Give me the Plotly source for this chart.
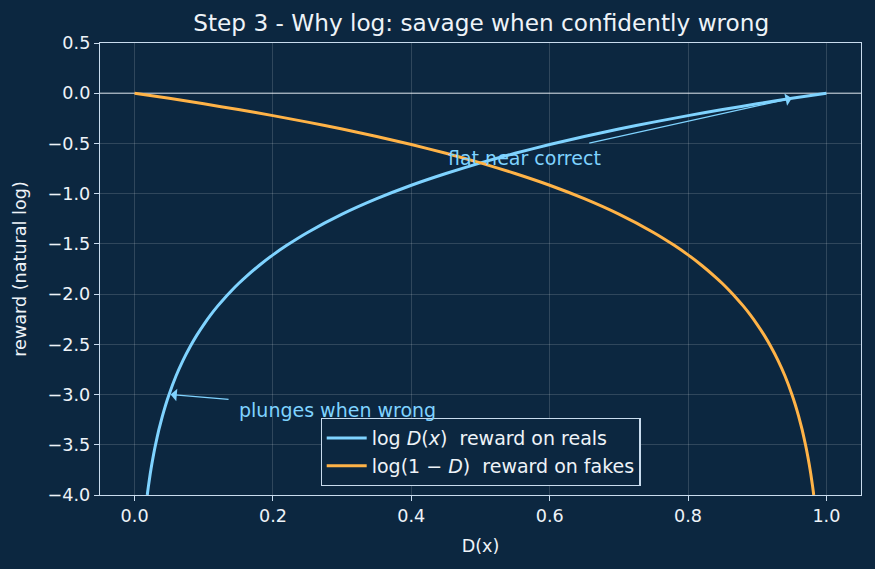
import plotly.graph_objects as go

# Data (reward = natural log)
real_x = [0.0183, 0.02, 0.0225, 0.025, 0.0275, 0.03, 0.035, 0.04, 0.045, 0.05, 0.06, 0.07, 0.08,
          0.09, 0.1, 0.11, 0.12, 0.13, 0.14, 0.15, 0.16, 0.18, 0.2, 0.22, 0.25, 0.3, 0.35, 0.4,
          0.45, 0.5, 0.55, 0.6, 0.65, 0.7, 0.75, 0.8, 0.85, 0.9, 0.95, 1.0]
real_y = [-4.0, -3.912, -3.794, -3.689, -3.594, -3.507, -3.352, -3.219, -3.101, -2.996, -2.813,
          -2.659, -2.526, -2.408, -2.303, -2.207, -2.120, -2.040, -1.966, -1.897, -1.833, -1.715,
          -1.609, -1.514, -1.386, -1.204, -1.050, -0.916, -0.799, -0.693, -0.598, -0.511, -0.431,
          -0.357, -0.288, -0.223, -0.163, -0.105, -0.051, 0.0]
fake_x = [0.0, 0.05, 0.1, 0.15, 0.2, 0.25, 0.3, 0.35, 0.4, 0.45, 0.5, 0.55, 0.6, 0.65, 0.7, 0.75,
          0.78, 0.8, 0.82, 0.84, 0.85, 0.86, 0.87, 0.88, 0.89, 0.9, 0.91, 0.92, 0.93, 0.94, 0.95,
          0.955, 0.96, 0.965, 0.97, 0.9725, 0.975, 0.9775, 0.98, 0.9817]
fake_y = [0.0, -0.051, -0.105, -0.163, -0.223, -0.288, -0.357, -0.431, -0.511, -0.598, -0.693,
          -0.799, -0.916, -1.050, -1.204, -1.386, -1.514, -1.609, -1.715, -1.833, -1.897, -1.966,
          -2.040, -2.120, -2.207, -2.303, -2.408, -2.526, -2.659, -2.813, -2.996, -3.101, -3.219,
          -3.352, -3.507, -3.594, -3.689, -3.794, -3.912, -4.0]

names = ["log <i>D</i>(<i>x</i>)  reward on reals", "log(1 − <i>D</i>)  reward on fakes"]
colors = ["#7fd3ff", "#ffb347"]

BG = "#0c2740"
FG = "#eef3f8"
SPINE = "#c9dcee"

fig = go.Figure()
fig.add_trace(go.Scatter(x=real_x, y=real_y, mode="lines", name=names[0],
                         line=dict(color=colors[0], width=3, shape="spline", smoothing=0.5)))
fig.add_trace(go.Scatter(x=fake_x, y=fake_y, mode="lines", name=names[1],
                         line=dict(color=colors[1], width=3, shape="spline", smoothing=0.5)))

# horizontal reference at 0
fig.add_shape(type="line", xref="paper", x0=0, x1=1, yref="y", y0=0, y1=0,
              line=dict(color="rgba(200,210,220,0.7)", width=1.5), layer="below")

# annotations
fig.add_annotation(x=0.95, y=-0.05, ax=0.655, ay=-0.5, xref="x", yref="y", axref="x", ayref="y",
                   text="", showarrow=True, arrowhead=1, arrowsize=1.6, arrowwidth=1.3,
                   arrowcolor=colors[0])
fig.add_annotation(x=0.45, y=-0.64, xref="x", yref="y", text="flat near correct", showarrow=False,
                   xanchor="left", yanchor="middle", font=dict(color=colors[0], size=19))
fig.add_annotation(x=0.052, y=-3.0, ax=0.138, ay=-3.05, xref="x", yref="y", axref="x", ayref="y",
                   text="", showarrow=True, arrowhead=1, arrowsize=1.6, arrowwidth=1.3,
                   arrowcolor=colors[0])
fig.add_annotation(x=0.148, y=-3.15, xref="x", yref="y", text="plunges when wrong", showarrow=False,
                   xanchor="left", yanchor="middle", font=dict(color=colors[0], size=19))

fig.update_layout(
    width=875, height=569,
    paper_bgcolor=BG, plot_bgcolor=BG,
    margin=dict(l=100, r=14, t=43, b=74),
    font=dict(family="DejaVu Sans", color=FG, size=17),
    title=dict(text="Step 3 - Why log: savage when confidently wrong", x=0.55, xanchor="center",
               y=1 - 23 / 569, yanchor="middle", font=dict(size=23.2, color=FG)),
    legend=dict(x=0.5, xanchor="center", y=0.02, yanchor="bottom", bgcolor=BG,
                bordercolor=SPINE, borderwidth=1.2, font=dict(size=19, color=FG),
                itemwidth=40),
    showlegend=True,
)
fig.update_xaxes(range=[-0.05, 1.05], tickvals=[0, 0.2, 0.4, 0.6, 0.8, 1.0],
                 ticktext=["0.0", "0.2", "0.4", "0.6", "0.8", "1.0"],
                 title=dict(text="D(x)", font=dict(size=17.6), standoff=14),
                 showgrid=True, gridcolor="rgba(255,255,255,0.15)", gridwidth=1,
                 zeroline=False, showline=True, linecolor=SPINE, linewidth=1.3, mirror=True,
                 ticks="outside", tickcolor=SPINE, ticklen=5, tickfont=dict(size=17.6))
fig.update_yaxes(range=[-4.0, 0.5], tickvals=[0.5, 0, -0.5, -1, -1.5, -2, -2.5, -3, -3.5, -4],
                 ticktext=["0.5", "0.0", "−0.5", "−1.0", "−1.5", "−2.0", "−2.5", "−3.0", "−3.5", "−4.0"],
                 title=dict(text="reward (natural log)", font=dict(size=17.6), standoff=16),
                 showgrid=True, gridcolor="rgba(255,255,255,0.15)", gridwidth=1,
                 zeroline=False, showline=True, linecolor=SPINE, linewidth=1.3, mirror=True,
                 ticks="outside", tickcolor=SPINE, ticklen=5, tickfont=dict(size=17.6))

fig.write_html("out.html")
